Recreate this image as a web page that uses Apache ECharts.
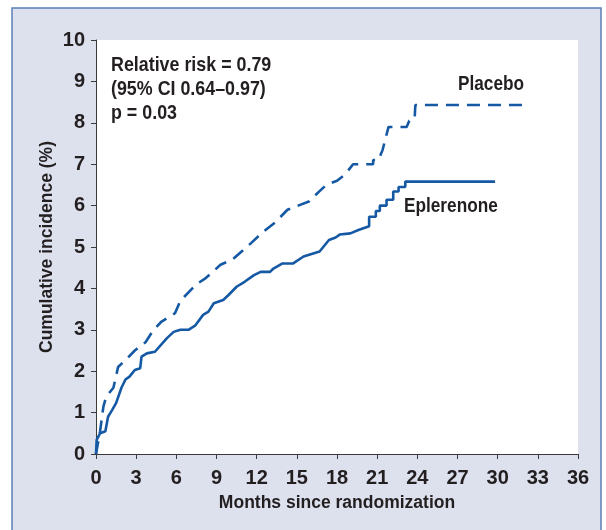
<!DOCTYPE html>
<html>
<head>
<meta charset="utf-8">
<script src="https://cdn.jsdelivr.net/npm/echarts@6/dist/echarts.min.js"></script>
<style>html,body{margin:0;padding:0;background:#fff}#c{width:606px;height:530px}</style>
</head>
<body>
<div id="c"></div>
<script>
// Traced paths of the two cumulative-incidence curves: months since randomization, incidence (%)
const eplerenoneMonths = [0,0.05,0.3,0.7,0.9,1.2,1.5,1.9,2.2,2.5,2.9,3.3,3.4,3.8,4.4,5.3,5.8,6.3,6.9,7.4,8.0,8.4,8.8,9.5,9.9,10.5,11.1,11.8,12.3,13.0,13.25,13.9,14.7,15.5,16.1,16.7,17.4,17.9,18.2,19.0,19.6,20.4,20.4,20.9,20.9,21.2,21.2,21.7,21.7,22.2,22.2,22.6,22.6,23.1,23.1,29.8];
const eplerenoneValues = [0,0.34,0.5,0.55,0.9,1.06,1.23,1.6,1.8,1.87,2.03,2.07,2.35,2.43,2.47,2.8,2.95,3.0,3.0,3.1,3.36,3.44,3.64,3.72,3.84,4.04,4.16,4.32,4.4,4.4,4.48,4.6,4.6,4.77,4.83,4.89,5.17,5.23,5.3,5.33,5.41,5.5,5.73,5.73,5.87,5.87,6.0,6.0,6.14,6.14,6.34,6.34,6.45,6.45,6.58,6.58];
const placeboMonths = [0,0.3,0.55,0.75,1.3,1.65,2.3,2.9,3.7,4.3,4.9,5.9,6.3,7.5,8.2,9.3,10.2,11.6,12.5,13.4,14.3,15.1,15.9,16.7,17.2,18.0,18.6,19.2,20.7,20.7,21.1,21.4,21.85,23.2,23.4,23.8,23.85,31.9];
const placeboValues = [0,0.54,1.14,1.38,1.6,2.1,2.3,2.5,2.7,3.0,3.2,3.4,3.7,4.1,4.25,4.57,4.7,5.1,5.37,5.6,5.9,6.0,6.1,6.35,6.5,6.6,6.75,7.0,7.0,7.1,7.1,7.34,7.9,7.9,8.05,8.1,8.43,8.43];
const annotationLines = ['Relative risk = 0.79', '(95% CI 0.64\u20130.97)', 'p = 0.03'];
const seriesNames = ['Placebo', 'Eplerenone'];

const FONT = '"Liberation Sans", Arial, sans-serif';
const TXT = '#231f20';
const BLUE = '#1559a5';

const zip = (a, b) => a.map((x, i) => [x, b[i]]);

const chart = echarts.init(document.getElementById('c'), null, {renderer: 'canvas'});
const annYs = [65, 89, 113];
const txt = (t, x, y, sx) => ({
  type: 'text', x: x, y: y, z: 10, silent: true, scaleX: sx,
  style: {text: t, fontFamily: FONT, fontWeight: 'bold', fontSize: 21, fill: TXT, align: 'left', verticalAlign: 'middle'}
});
chart.setOption({
  backgroundColor: '#ffffff',
  animation: false,
  grid: {left: 96, right: 28, top: 40, bottom: 76, show: true, backgroundColor: '#ffffff', borderWidth: 0},
  graphic: [
    {type: 'rect', z: -10, silent: true, shape: {x: 12, y: 8, width: 589, height: 540},
     style: {fill: '#dde1ee', stroke: '#5a7fb8', lineWidth: 1.5}}
  ].concat(annotationLines.map((t, i) => txt(t, 111, annYs[i], 0.85)))
   .concat([txt(seriesNames[0], 458, 84, 0.82), txt(seriesNames[1], 404, 206, 0.82)]),
  xAxis: {
    type: 'value', min: 0, max: 36, interval: 3,
    name: 'Months since randomization', nameLocation: 'middle', nameGap: 49,
    nameTextStyle: {fontFamily: FONT, fontWeight: 'bold', fontSize: 17.5, color: TXT, verticalAlign: 'middle'},
    axisLine: {show: true, onZero: false, lineStyle: {color: '#3a3a3a', width: 1}},
    axisTick: {show: true, length: 5, lineStyle: {color: '#3a3a3a'}},
    axisLabel: {fontFamily: FONT, fontWeight: 'bold', fontSize: 20, color: TXT, margin: 24, verticalAlign: 'middle'},
    splitLine: {show: false}
  },
  yAxis: {
    type: 'value', min: 0, max: 10, interval: 1,
    name: 'Cumulative incidence (%)', nameLocation: 'middle', nameGap: 40, nameMoveOverlap: false,
    nameTextStyle: {fontFamily: FONT, fontWeight: 'bold', fontSize: 17.5, color: TXT},
    axisLine: {show: true, lineStyle: {color: '#3a3a3a', width: 1}},
    axisTick: {show: true, length: 5, lineStyle: {color: '#3a3a3a'}},
    axisLabel: {fontFamily: FONT, fontWeight: 'bold', fontSize: 20, color: TXT, margin: 11},
    splitLine: {show: false}
  },
  series: [
    {name: seriesNames[0], type: 'line', showSymbol: false, data: zip(placeboMonths, placeboValues),
     lineStyle: {color: BLUE, width: 2.6, type: [13, 8]}, z: 3},
    {name: seriesNames[1], type: 'line', showSymbol: false, data: zip(eplerenoneMonths, eplerenoneValues),
     lineStyle: {color: BLUE, width: 2.6, type: 'solid'}, z: 4}
  ]
});
</script>
</body>
</html>
